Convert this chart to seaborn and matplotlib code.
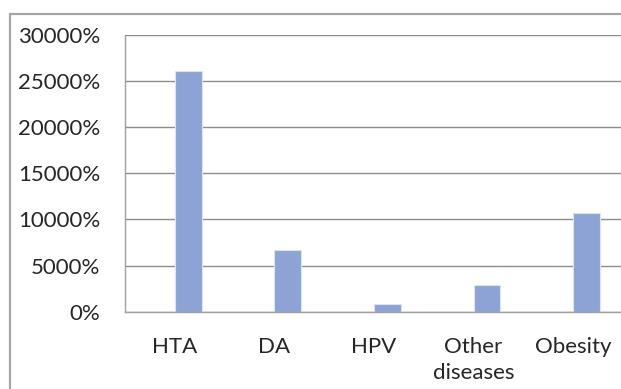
import matplotlib
matplotlib.use("Agg")
import matplotlib.pyplot as plt
import matplotlib.patches as mpatches
import matplotlib.ticker as mticker
import seaborn as sns

# Data (values in %)
categories = ["HTA", "DA", "HPV", "Other\ndiseases", "Obesity"]
values = [26100, 6700, 880, 2900, 10650]
y_ticks = [0, 5000, 10000, 15000, 20000, 25000, 30000]

sns.set_style("white")
plt.rcParams["font.family"] = ["Lato", "DejaVu Sans"]

fig = plt.figure(figsize=(6.21, 3.89), dpi=100)
ax = fig.add_axes([125 / 621, 77.3 / 389, 498 / 621, 276.7 / 389])

bar_w = 0.27
sns.barplot(x=categories, y=values, color="#8EA3D5", width=bar_w, saturation=1,
            edgecolor="#DCE3F3", linewidth=0.8, ax=ax)
# Excel-style: bar sits to the right of the category centre
for p in ax.patches:
    p.set_x(p.get_x() + bar_w / 2)

ax.set_ylim(0, 30000)
ax.set_xlim(-0.5, len(categories) - 0.5)
ax.set_yticks(y_ticks)
ax.yaxis.set_major_formatter(mticker.FuncFormatter(lambda v, _: f"{v:.0f}%"))
ax.yaxis.grid(True, color="#8C8C8C", linewidth=1.0)
ax.set_axisbelow(True)

# category boundary ticks + centred labels
ax.set_xticks([i - 0.5 for i in range(len(categories) + 1)])
ax.set_xticklabels([])
ax.set_xticks(range(len(categories)), minor=True)
ax.set_xticklabels(categories, minor=True, fontsize=16, linespacing=1.4)
ax.tick_params(axis="x", which="major", length=7, width=1, color="#A0A0A0", direction="out")
ax.tick_params(axis="x", which="minor", length=0, pad=18)
ax.tick_params(axis="y", length=7, width=1, color="#A0A0A0", pad=11, labelsize=16)
for lab in ax.get_xticklabels(minor=True):
    lab.set_verticalalignment("top")

ax.set_xlabel("")
ax.set_ylabel("")
for side in ["top", "right"]:
    ax.spines[side].set_visible(False)
for side in ["left", "bottom"]:
    ax.spines[side].set_color("#A0A0A0")
    ax.spines[side].set_linewidth(1.0)

# outer chart border (runs off the right/bottom edge)
fig.patches.append(mpatches.Rectangle((10 / 621, -0.1), 1.2, 1 - 14 / 389 + 0.1,
                                      transform=fig.transFigure, fill=False,
                                      edgecolor="#A6A6A6", linewidth=1.6, zorder=0))

fig.savefig("out.png", dpi=100)
